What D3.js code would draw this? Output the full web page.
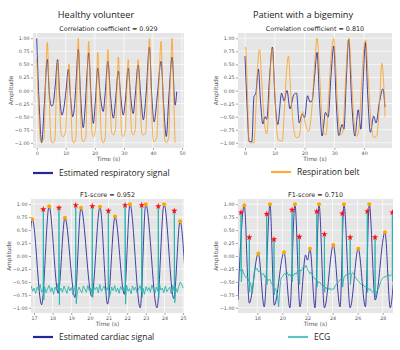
<!DOCTYPE html>
<html>
<head>
<meta charset="utf-8">
<script src="https://cdn.jsdelivr.net/npm/d3@7"></script>
<style>
  body { margin: 0; background: #fff; }
  svg { display: block; }
</style>
</head>
<body>
<div id="chart"></div>
<script>
// ---- data: [time (s), amplitude] ----
const respHealthyEst = [
  [0,1.0],[0.8,-0.2],[1.7,-1.0],[2.6,-0.3],[3.66,0.6],[4.4,-0.1],[5.15,-0.3],[5.6,-0.27],[6.4,0.1],
  [7.2,0.59],[7.9,-0.1],[8.7,-0.47],[9.3,-0.35],[10.1,0.0],[10.9,0.41],[11.6,-0.1],[12.4,-0.5],
  [13.0,-0.3],[13.6,0.2],[14.3,0.79],[15.1,-0.1],[16.0,-0.71],[16.7,-0.3],[17.3,0.3],[17.9,0.72],
  [18.7,-0.1],[19.5,-0.63],[20.2,-0.2],[21.0,0.43],[21.9,-0.1],[22.9,-0.4],[23.5,-0.1],[24.5,0.56],
  [25.4,-0.1],[26.4,-0.53],[27.1,-0.2],[28.1,0.37],[28.9,-0.1],[29.8,-0.47],[30.5,-0.2],[31.5,0.43],
  [32.3,-0.1],[33.2,-0.44],[33.9,-0.1],[34.9,0.49],[35.8,-0.1],[36.7,-0.56],[37.6,-0.1],[38.8,0.83],
  [39.6,-0.1],[40.4,-0.6],[41.5,-0.1],[42.8,0.56],[43.7,-0.3],[44.6,-0.88],[45.5,-0.1],[46.6,0.64],
  [47.6,-0.28],[48.2,-0.02]
];
const respHealthyBelt = [
  [0,0.6],[0.6,-0.3],[1.3,-0.95],[1.7,-0.98],[2.5,-0.9],[3.1,0.2],[3.66,0.92],[4.2,0.1],[4.8,-0.85],
  [5.3,-1.0],[6.2,-0.97],[6.7,-0.2],[7.2,0.56],[7.8,-0.2],[8.5,-0.85],[9.2,-0.88],[9.9,-0.8],[10.5,-0.1],
  [11.1,0.51],[11.7,-0.2],[12.3,-0.95],[12.8,-1.0],[13.5,-0.9],[13.9,0.2],[14.3,1.0],[14.9,0.0],
  [15.5,-0.9],[16.0,-0.98],[16.9,-0.9],[17.4,0.2],[17.9,0.94],[18.5,0.0],[19.1,-0.85],[19.6,-0.88],
  [20.3,-0.7],[20.6,0.0],[21.0,0.73],[21.6,0.0],[22.3,-0.9],[22.9,-1.0],[23.6,-0.9],[24.0,0.0],
  [24.5,0.78],[25.1,0.0],[25.8,-0.8],[26.4,-0.85],[27.1,-0.75],[27.6,0.0],[28.1,0.64],[28.7,-0.1],
  [29.3,-0.85],[29.8,-0.88],[30.5,-0.75],[31.0,0.0],[31.5,0.59],[32.1,-0.1],[32.7,-0.8],[33.2,-0.85],
  [33.9,-0.75],[34.4,0.0],[34.9,0.59],[35.5,-0.1],[36.2,-0.82],[36.7,-0.85],[37.5,-0.8],[38.2,0.2],
  [38.8,1.0],[39.4,0.0],[40.0,-0.9],[40.4,-0.98],[41.3,-0.9],[42.1,0.2],[42.8,0.94],[43.4,0.0],
  [44.1,-0.95],[44.6,-1.0],[45.4,-0.9],[46.0,0.2],[46.6,1.0],[47.1,0.0],[47.6,-1.0]
];
const respPatientEst = [
  [0,0.66],[0.7,-0.3],[1.4,-0.98],[2.3,-0.98],[3.0,-0.12],[3.6,-0.06],[4.5,0.41],[5.2,-0.2],[6.0,-0.64],
  [6.7,-0.5],[7.3,-0.55],[8.3,0.3],[9.2,0.83],[10.1,-0.2],[11.0,-0.65],[12.3,-0.05],[13.1,-0.2],
  [14.1,0.0],[15.1,-0.35],[16.4,-0.08],[17.3,-0.05],[18.2,-0.62],[19.2,-0.45],[20.0,-0.52],[21.0,-0.1],
  [21.8,-0.22],[22.5,-0.2],[23.4,0.3],[24.2,0.73],[25.0,-0.2],[25.9,-0.87],[27.0,-0.42],[27.9,-0.51],
  [28.9,0.3],[29.8,0.85],[30.6,-0.2],[31.5,-0.86],[32.6,-0.65],[33.2,-0.74],[34.0,0.2],[34.8,0.98],
  [35.8,-0.2],[36.9,-0.87],[38.0,-0.37],[38.9,-0.74],[39.7,0.2],[40.4,0.92],[41.2,-0.1],[42.1,-0.8],
  [43.2,-0.49],[44.0,-0.62],[45.2,-0.2],[46.3,0.03],[47.0,-0.32]
];
const respPatientBelt = [
  [0,0.8],[0.2,0.83],[0.8,0.0],[1.3,-0.95],[1.8,-1.0],[3.0,-1.0],[3.7,-0.3],[4.3,0.5],[4.9,0.78],
  [5.6,0.2],[6.5,-0.6],[7.3,-0.83],[8.0,-0.3],[8.6,0.5],[9.1,0.8],[9.8,0.2],[10.6,-0.7],[11.2,-0.95],
  [12.5,-0.97],[13.2,-0.4],[14.0,0.4],[14.6,0.66],[15.3,0.0],[16.3,-0.7],[17.2,-0.9],[18.2,-0.88],
  [19.3,-0.4],[20.3,-0.65],[21.4,-0.78],[22.5,-0.3],[23.5,0.6],[24.2,1.0],[24.8,0.6],[25.5,-0.2],
  [26.4,-0.8],[27.2,-0.85],[28.0,-0.2],[29.0,0.7],[29.8,1.0],[30.4,0.5],[31.2,-0.4],[32.0,-0.85],
  [32.8,-0.8],[33.7,0.1],[34.4,0.8],[34.9,1.0],[35.6,0.4],[36.6,-0.6],[37.5,-0.88],[38.3,-0.7],
  [39.2,0.2],[40.1,0.9],[40.5,0.97],[41.3,0.3],[42.3,-0.6],[43.3,-0.9],[44.2,-0.87],[45.2,-0.2],
  [45.9,0.52],[46.4,0.3],[47.0,-0.5]
];

const cardHealthyEst = [
  [16.8,0.45],[16.91,0.71],[17.41,-0.94],[17.81,0.96],[18.3,-0.72],[18.66,0.74],[19.2,-0.8],[19.52,0.93],
  [20.1,-0.78],[20.54,0.95],[20.95,-0.93],[21.35,0.76],[21.85,-0.74],[22.15,1.0],[22.7,-1.0],[23.0,1.0],
  [23.6,-1.0],[23.98,1.0],[24.5,-0.82],[24.84,0.67],[25.1,-0.3]
];
const cardHealthyPeaks = [
  [16.91,0.71],[17.81,0.96],[18.66,0.74],[19.52,0.93],[20.54,0.95],[21.35,0.76],[22.15,1.0],[23.0,1.0],
  [23.98,1.0],[24.84,0.67]
];
const ecgHealthyR = [
  [17.5,0.9],[18.34,0.93],[19.24,0.98],[20.13,0.96],[20.99,0.87],[21.89,0.98],[22.78,0.98],[23.67,0.96],
  [24.53,0.87]
];
const ecgHealthyS = [-0.85,-0.94,-0.92,-0.8,-0.82,-0.93,-0.8,-0.82,-0.9];
const ecgHealthyStart = 16.85, ecgHealthyStep = 0.08;
const ecgHealthyBase = [
  -0.58,-0.68,-0.62,-0.72,-0.60,-0.66,-0.55,-0.70,-0.64,-0.59,
  -0.71,-0.63,-0.57,-0.69,-0.61,-0.74,-0.60,-0.66,-0.53,-0.68,
  -0.62,-0.70,-0.58,-0.65,-0.72,-0.59,-0.67,-0.61,-0.75,-0.63,
  -0.56,-0.69,-0.60,-0.66,-0.71,-0.58,-0.64,-0.70,-0.57,-0.67,
  -0.62,-0.73,-0.59,-0.65,-0.60,-0.71,-0.55,-0.68,-0.63,-0.58,
  -0.70,-0.61,-0.66,-0.74,-0.60,-0.67,-0.57,-0.69,-0.62,-0.72,
  -0.59,-0.65,-0.61,-0.70,-0.56,-0.68,-0.63,-0.73,-0.58,-0.66,
  -0.60,-0.71,-0.64,-0.57,-0.69,-0.62,-0.74,-0.59,-0.67,-0.61,
  -0.70,-0.56,-0.65,-0.72,-0.60,-0.68,-0.53,-0.66,-0.62,-0.71,
  -0.58,-0.69,-0.64,-0.60,-0.73,-0.57,-0.67,-0.62,-0.70,-0.59,
  -0.50,-0.55,-0.62
];

const cardPatientEst = [
  [16.46,-0.85],[16.96,0.98],[17.36,-0.91],[18.08,0.05],[18.55,-0.98],[19.01,1.0],[19.35,-0.95],
  [20.13,0.07],[20.6,-1.0],[21.0,1.0],[21.4,-0.98],[21.85,0.02],[22.0,-0.08],[22.2,0.14],[22.6,-1.0],
  [22.92,1.0],[23.35,-1.0],[24.06,0.21],[24.6,-0.98],[24.91,1.0],[25.4,-1.0],[26.05,0.14],[26.62,-0.98],
  [26.93,1.0],[27.4,-0.85],[28.18,0.46],[28.6,-1.0],[28.85,-0.5]
];
const cardPatientPeaks = [
  [16.96,0.98],[18.08,0.05],[19.01,1.0],[20.13,0.07],[21.0,1.0],[22.2,0.14],[22.92,1.0],[24.06,0.21],
  [24.91,1.0],[26.05,0.14],[26.93,1.0],[28.18,0.46]
];
const ecgPatientR = [
  [16.7,0.84],[17.36,0.36],[18.75,0.81],[19.33,0.32],[20.77,0.89],[21.35,0.37],[22.74,0.86],[23.35,0.42],
  [24.78,0.82],[25.4,0.36],[26.77,0.86],[27.39,0.36],[28.77,0.84]
];
const ecgPatientS = [-0.5,-0.7,-0.55,-0.75,-0.5,-0.55,-0.6,-0.7,-0.6,-0.55,-0.7,-0.8,-0.5];
const ecgPatientStart = 16.5, ecgPatientStep = 0.1;
const ecgPatientBase = [
  -0.34,-0.30,-0.27,-0.25,-0.33,-0.38,-0.42,-0.40,-0.47,-0.50,
  -0.55,-0.72,-0.45,-0.22,-0.26,-0.24,-0.31,-0.28,-0.33,-0.36,
  -0.34,-0.41,-0.38,-0.44,-0.47,-0.45,-0.52,-0.55,-0.58,-0.62,
  -0.66,-0.75,-0.98,-0.62,-0.42,-0.40,-0.36,-0.33,-0.37,-0.32,
  -0.38,-0.35,-0.40,-0.36,-0.38,-0.33,-0.35,-0.30,-0.31,-0.27,
  -0.29,-0.24,-0.20,-0.22,-0.18,-0.26,-0.30,-0.34,-0.31,-0.38,
  -0.42,-0.45,-0.43,-0.48,-0.52,-0.50,-0.55,-0.58,-0.56,-0.60,
  -0.63,-0.59,-0.65,-0.62,-0.66,-0.63,-0.64,-0.58,-0.55,-0.52,
  -0.49,-0.46,-0.44,-0.40,-0.42,-0.38,-0.37,-0.34,-0.36,-0.33,
  -0.35,-0.32,-0.36,-0.40,-0.43,-0.47,-0.50,-0.52,-0.55,-0.54,
  -0.58,-0.60,-0.58,-0.62,-0.65,-0.63,-0.68,-0.70,-0.67,-0.72,
  -0.69,-0.66,-0.60,-0.52,-0.47,-0.43,-0.40,-0.41,-0.38,-0.40,
  -0.36,-0.39,-0.37,-0.35
];

const yTicks = [-1, -0.75, -0.5, -0.25, 0, 0.25, 0.5, 0.75, 1];
const xTicksRespHealthy = [0, 10, 20, 30, 40, 50];
const xTicksRespPatient = [0, 10, 20, 30, 40];
const xTicksCardHealthy = [17, 18, 19, 20, 21, 22, 23, 24, 25];
const xTicksCardPatient = [18, 20, 22, 24, 26, 28];

const titles = ['Healthy volunteer', 'Patient with a bigeminy'];
const subtitles = ['Correlation coefficient = 0.929', 'Correlation coefficient = 0.810', 'F1-score = 0.952', 'F1-score = 0.710'];
const legendLabels = ['Estimated respiratory signal', 'Respiration belt', 'Estimated cardiac signal', 'ECG'];

// ---- colours ----
const BLUE = 'rgba(0,0,139,0.72)';
const ORANGE = 'rgba(255,150,0,0.72)';
const TEAL = 'rgba(32,178,170,0.85)';

// ECG trace = sampled baseline + R/S spikes at the annotated beats
const buildEcg = (start, step, base, rPeaks, sVals) => {
  const pts = base.map((v, i) => [start + i * step, v]);
  rPeaks.forEach((r, i) => {
    const k = Math.min(base.length - 1, Math.max(0, Math.round((r[0] - start) / step)));
    pts.push([r[0] - 0.012, base[k]]);
    pts.push([r[0], r[1]]);
    pts.push([r[0] + 0.025, sVals[i]]);
  });
  return pts.sort((a, b) => a[0] - b[0]);
};

const svg = d3.select('#chart').append('svg')
  .attr('width', 400).attr('height', 350)
  .style('font-family', '"DejaVu Sans", sans-serif');
svg.append('rect').attr('width', 400).attr('height', 350).attr('fill', '#fff');

let clipId = 0;
const drawPanel = p => {
  const x = d3.scaleLinear().domain(p.xDomain).range([p.left, p.right]);
  const y = d3.scaleLinear().domain([-1.1, 1.1]).range([p.bottom, p.top]);
  const g = svg.append('g');
  g.append('rect')
    .attr('x', p.left).attr('y', p.top)
    .attr('width', p.right - p.left).attr('height', p.bottom - p.top)
    .attr('fill', '#e5e5e5');
  // grid
  g.append('g').selectAll('line').data(p.xTicks).join('line')
    .attr('x1', d => x(d)).attr('x2', d => x(d))
    .attr('y1', p.top).attr('y2', p.bottom)
    .attr('stroke', '#fff').attr('stroke-width', 0.7);
  g.append('g').selectAll('line').data(yTicks).join('line')
    .attr('x1', p.left).attr('x2', p.right)
    .attr('y1', d => y(d)).attr('y2', d => y(d))
    .attr('stroke', '#fff').attr('stroke-width', 0.7);
  // axes
  const xAxis = g.append('g')
    .attr('transform', `translate(0,${p.bottom})`)
    .call(d3.axisBottom(x).tickValues(p.xTicks).tickSize(2).tickPadding(1.5).tickFormat(d3.format('d')));
  const yAxis = g.append('g')
    .attr('transform', `translate(${p.left},0)`)
    .call(d3.axisLeft(y).tickValues(yTicks).tickSize(2).tickPadding(1.5).tickFormat(d3.format('.2f')));
  [xAxis, yAxis].forEach(a => {
    a.select('.domain').remove();
    a.selectAll('.tick line').attr('stroke', '#666').attr('stroke-width', 0.6);
    a.selectAll('.tick text').attr('fill', '#555').attr('font-size', '4.8px')
      .attr('font-family', '"DejaVu Sans", sans-serif');
  });
  // labels
  g.append('text')
    .attr('x', (p.left + p.right) / 2).attr('y', p.bottom + 13)
    .attr('text-anchor', 'middle').attr('font-size', '5.8px').attr('fill', '#555')
    .text('Time (s)');
  g.append('text')
    .attr('transform', `translate(${p.left - 20},${(p.top + p.bottom) / 2}) rotate(-90)`)
    .attr('text-anchor', 'middle').attr('font-size', '5.8px').attr('fill', '#555')
    .text('Amplitude');
  g.append('text')
    .attr('x', (p.left + p.right) / 2).attr('y', p.top - 2.5)
    .attr('text-anchor', 'middle').attr('font-size', '6.4px').attr('fill', '#222')
    .text(p.subtitle);
  // clipped series
  const id = 'clip' + (clipId++);
  g.append('clipPath').attr('id', id).append('rect')
    .attr('x', p.left).attr('y', p.top)
    .attr('width', p.right - p.left).attr('height', p.bottom - p.top);
  const plot = g.append('g').attr('clip-path', `url(#${id})`);
  p.series.forEach(s => {
    const line = d3.line().x(d => x(d[0])).y(d => y(d[1]))
      .curve(s.smooth ? d3.curveMonotoneX : d3.curveLinear);
    plot.append('path').datum(s.data)
      .attr('d', line).attr('fill', 'none')
      .attr('stroke', s.color).attr('stroke-width', s.width || 1)
      .attr('stroke-linejoin', 'round');
  });
  if (p.peaks) {
    plot.append('g').selectAll('circle').data(p.peaks).join('circle')
      .attr('cx', d => x(d[0])).attr('cy', d => y(d[1])).attr('r', 2)
      .attr('fill', '#ffa500');
  }
  if (p.stars) {
    plot.append('g').selectAll('path').data(p.stars).join('path')
      .attr('transform', d => `translate(${x(d[0])},${y(d[1])})`)
      .attr('d', d3.symbol(d3.symbolStar, 13))
      .attr('fill', '#ff1010');
  }
};

const panels = [
  { left: 33, right: 184, top: 33, bottom: 148, xDomain: [-1.27, 50.69], xTicks: xTicksRespHealthy,
    subtitle: subtitles[0],
    series: [{ data: respHealthyEst, color: BLUE, smooth: true }, { data: respHealthyBelt, color: ORANGE, smooth: true }] },
  { left: 238, right: 392, top: 33, bottom: 148, xDomain: [-2.35, 49.35], xTicks: xTicksRespPatient,
    subtitle: subtitles[1],
    series: [{ data: respPatientEst, color: BLUE, smooth: true }, { data: respPatientBelt, color: ORANGE, smooth: true }] },
  { left: 31, right: 184, top: 199, bottom: 313, xDomain: [16.84, 25.05], xTicks: xTicksCardHealthy,
    subtitle: subtitles[2],
    series: [{ data: cardHealthyEst, color: BLUE, smooth: true },
      { data: buildEcg(ecgHealthyStart, ecgHealthyStep, ecgHealthyBase, ecgHealthyR, ecgHealthyS), color: TEAL }],
    peaks: cardHealthyPeaks, stars: ecgHealthyR },
  { left: 238, right: 393, top: 199, bottom: 313, xDomain: [16.46, 28.82], xTicks: xTicksCardPatient,
    subtitle: subtitles[3],
    series: [{ data: cardPatientEst, color: BLUE, smooth: true },
      { data: buildEcg(ecgPatientStart, ecgPatientStep, ecgPatientBase, ecgPatientR, ecgPatientS), color: TEAL }],
    peaks: cardPatientPeaks, stars: ecgPatientR }
];
panels.forEach(drawPanel);

// column titles
[[96, titles[0]], [303, titles[1]]].forEach(([cx, t]) => {
  svg.append('text').attr('x', cx).attr('y', 18).attr('text-anchor', 'middle')
    .attr('font-family', '"Open Sans", sans-serif').attr('font-size', '9.2px').attr('fill', '#222')
    .text(t);
});

// legends
const legends = [
  { x: 33, y: 173, color: 'rgba(0,0,139,0.85)', label: legendLabels[0] },
  { x: 271, y: 172, color: 'rgba(255,150,0,0.8)', label: legendLabels[1] },
  { x: 33, y: 337, color: 'rgba(0,0,139,0.85)', label: legendLabels[2] },
  { x: 288, y: 337, color: 'rgba(32,178,170,0.75)', label: legendLabels[3] }
];
legends.forEach(l => {
  svg.append('line').attr('x1', l.x).attr('x2', l.x + 20).attr('y1', l.y).attr('y2', l.y)
    .attr('stroke', l.color).attr('stroke-width', 2.2);
  svg.append('text').attr('x', l.x + 26).attr('y', l.y + 3)
    .attr('font-family', '"Open Sans", sans-serif').attr('font-size', '8.5px').attr('fill', '#222')
    .text(l.label);
});
</script>
</body>
</html>
